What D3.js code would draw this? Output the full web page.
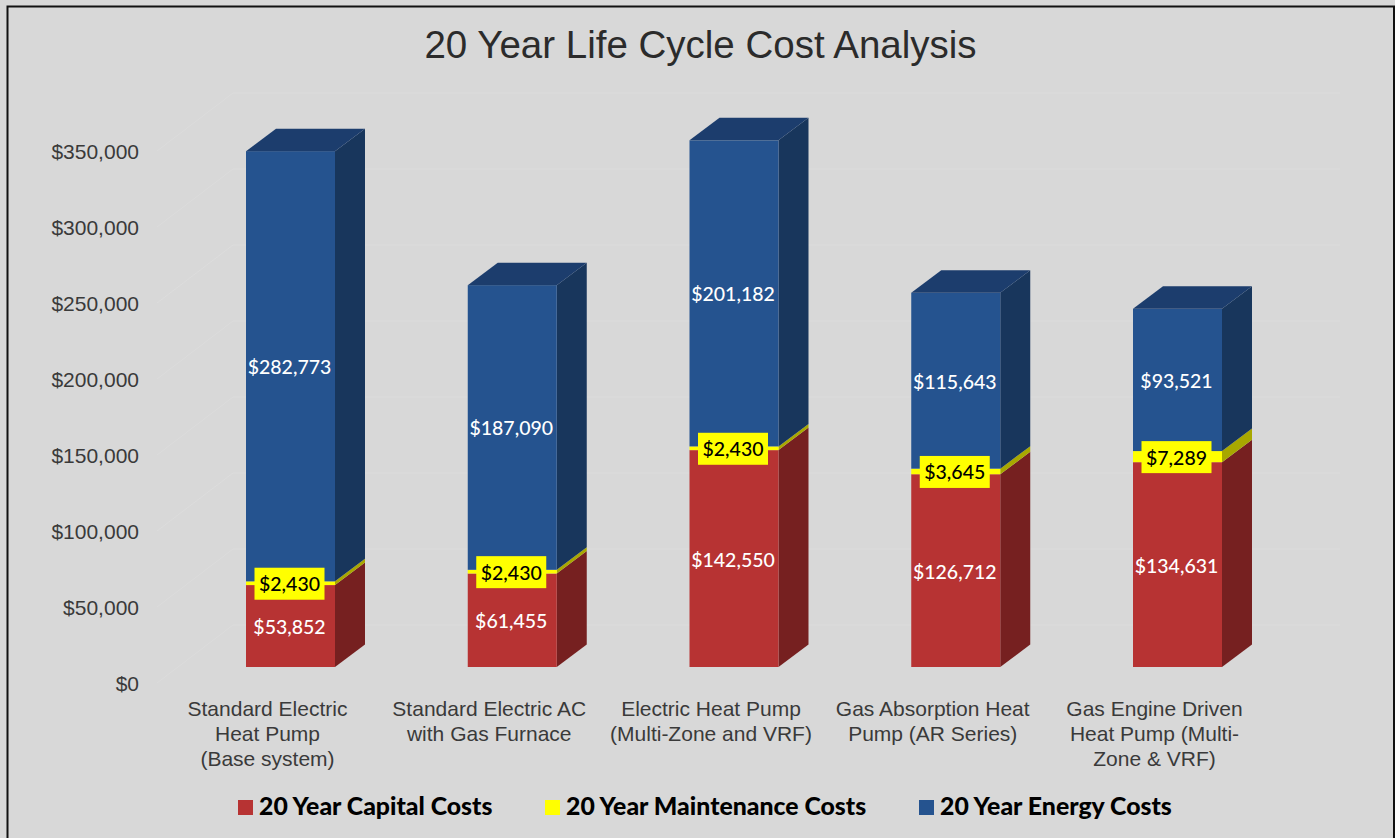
<!DOCTYPE html>
<html><head><meta charset="utf-8">
<script src="https://cdn.jsdelivr.net/npm/d3@7"></script>
<style>html,body{margin:0;padding:0;background:#fff;overflow:hidden}</style>
</head><body><svg id="c" width="1395" height="838"></svg>
<script>
const title = "20 Year Life Cycle Cost Analysis";
const categories = [
  ["Standard Electric","Heat Pump","(Base system)"],
  ["Standard Electric AC","with Gas Furnace"],
  ["Electric Heat Pump","(Multi-Zone and VRF)"],
  ["Gas Absorption Heat","Pump (AR Series)"],
  ["Gas Engine Driven","Heat Pump (Multi-","Zone & VRF)"]
];
const capital = [53852, 61455, 142550, 126712, 134631];
const maintenance = [2430, 2430, 2430, 3645, 7289];
const energy = [282773, 187090, 201182, 115643, 93521];
const seriesNames = ["20 Year Capital Costs","20 Year Maintenance Costs","20 Year Energy Costs"];
const seriesValues = [capital, maintenance, energy];
const colors = ["#b73333","#ffff00","#25538f"];
const sideColors = ["#762020","#a8a800","#18365c"];
const topColor = "#1c3d6d";
const ticks = [0,50000,100000,150000,200000,250000,300000,350000];

const svg = d3.select("#c");
svg.append("rect").attr("width",1395).attr("height",838).attr("fill","#d8d8d8");
svg.append("path").attr("d","M7.5,838V6.5H1394V838").attr("fill","none").attr("stroke","#111").attr("stroke-width",2);

const dx = 30, dy = -22.5;
const y = d3.scaleLinear().domain([0,350000]).range([667,134.5]);
const yAxisScale = d3.scaleLinear().domain([0,350000]).range([684,152]);
const bw = 89;
const xs = i => 246 + i*221.75;

const grid = svg.append("g");
ticks.forEach(t=>{
  const ya = yAxisScale(t)-1;
  grid.append("path").attr("d",`M157,${ya}L233,${ya-58}H1340`).attr("fill","none").attr("stroke","#dcdcdc").attr("stroke-width",1);
});

const axis = d3.axisLeft(yAxisScale).tickValues(ticks).tickSize(0).tickPadding(0).tickFormat(d=>"$"+d3.format(",")(d));
const ag = svg.append("g").attr("transform","translate(139,0)").call(axis);
ag.select(".domain").remove();
ag.selectAll("text").attr("font-family","Liberation Sans").attr("font-size",21).attr("fill","#3a3a3a");

const bars = svg.append("g");
categories.forEach((c,i)=>{
  let acc = 0;
  const x0 = xs(i);
  seriesValues.forEach((vals,s)=>{
    const yb = y(acc), yt = y(acc+vals[i]);
    acc += vals[i];
    bars.append("path").attr("d",`M${x0+bw},${yb}L${x0+bw+dx},${yb+dy}V${yt+dy}L${x0+bw},${yt}Z`).attr("fill",sideColors[s]);
    bars.append("rect").attr("x",x0).attr("y",yt).attr("width",bw).attr("height",yb-yt).attr("fill",colors[s]);
  });
  const yt = y(acc);
  bars.append("path").attr("d",`M${x0},${yt}L${x0+dx},${yt+dy}H${x0+bw+dx}L${x0+bw},${yt}Z`).attr("fill",topColor);
});

const labels = svg.append("g").attr("font-family","Lato").attr("font-size",19.5).attr("font-weight",500).attr("text-anchor","middle");
categories.forEach((c,i)=>{
  let acc = 0;
  const cx = xs(i)+bw/2-1;
  seriesValues.forEach((vals,s)=>{
    const mid = y(acc+vals[i]/2);
    acc += vals[i];
    const txt = "$"+d3.format(",")(vals[i]);
    if(s===1){
      labels.append("rect").attr("x",cx-35).attr("y",mid-15.5).attr("width",70).attr("height",32).attr("fill","#ffff00");
    }
    labels.append("text").attr("x",cx).attr("y",mid+8).attr("fill",s===1?"#000":"#fff").text(txt);
  });
});

const cat = svg.append("g").attr("font-family","Liberation Sans").attr("font-size",21).attr("fill","#3a3a3a").attr("text-anchor","middle");
categories.forEach((c,i)=>{
  const t = cat.append("text");
  c.forEach((l,j)=>t.append("tspan").attr("x",xs(i)+bw/2-23).attr("y",716+j*25).text(l));
});

svg.append("text").attr("x",700.5).attr("y",58).attr("text-anchor","middle").attr("font-family","Liberation Sans").attr("font-size",38.5).attr("fill","#2b2b2b").text(title);

const legendX = [238,545,919];
const leg = svg.append("g");
seriesNames.forEach((n,i)=>{
  leg.append("rect").attr("x",legendX[i]).attr("y",800).attr("width",15).attr("height",15).attr("fill",colors[i]);
  leg.append("text").attr("x",legendX[i]+21).attr("y",815).attr("font-family","Lato").attr("font-weight",900).attr("font-size",24.8).attr("fill","#000").text(n);
});
</script></body></html>
